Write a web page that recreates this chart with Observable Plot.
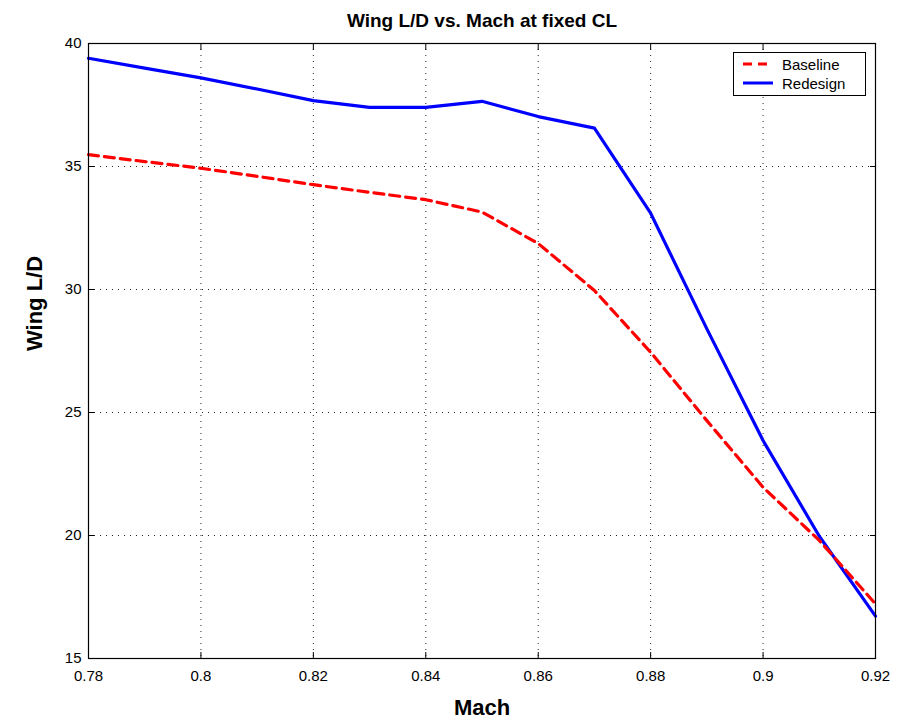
<!DOCTYPE html>
<html>
<head>
<meta charset="utf-8">
<script src="https://cdn.jsdelivr.net/npm/d3@7"></script>
<script src="https://cdn.jsdelivr.net/npm/@observablehq/plot@0.6"></script>
<style>
  html, body { margin: 0; padding: 0; background: #fff; }
  #wrap { position: relative; width: 908px; height: 723px; font-family: "Liberation Sans", Arial, Helvetica, sans-serif; }
  #legend { position: absolute; left: 733px; top: 52px; width: 133px; height: 44px; border: 1px solid #000; background: #fff; box-sizing: border-box; font-size: 15px; }
  #legend .row { position: absolute; left: 8px; height: 18px; display: flex; align-items: center; }
  #legend svg { margin-right: 8px; }
</style>
</head>
<body>
<div id="wrap">
  <div id="chart"></div>
  <div id="legend">
    <div class="row" style="top:2px"><svg width="32" height="8"><line x1="1" y1="4" x2="31" y2="4" stroke="#ff0000" stroke-width="3" stroke-dasharray="9,6"/></svg>Baseline</div>
    <div class="row" style="top:21px"><svg width="32" height="8"><line x1="1" y1="4" x2="31" y2="4" stroke="#0000ff" stroke-width="3"/></svg>Redesign</div>
  </div>
</div>
<script>
const mach = [0.78, 0.79, 0.80, 0.81, 0.82, 0.83, 0.84, 0.85, 0.86, 0.87, 0.88, 0.89, 0.90, 0.91, 0.92];
const baseline = [35.48, 35.2, 34.93, 34.6, 34.26, 33.95, 33.65, 33.15, 31.87, 29.96, 27.45, 24.67, 21.96, 19.8, 17.22];
const redesign = [39.4, 39.0, 38.6, 38.15, 37.68, 37.4, 37.4, 37.65, 37.03, 36.56, 33.1, 28.4, 23.86, 19.97, 16.72];
const xTicks = [0.78, 0.8, 0.82, 0.84, 0.86, 0.88, 0.9, 0.92];
const yTicks = [15, 20, 25, 30, 35, 40];
const xTickLabels = ["0.78", "0.8", "0.82", "0.84", "0.86", "0.88", "0.9", "0.92"];
const titleText = "Wing L/D vs. Mach at fixed CL";
const xLabel = "Mach";
const yLabel = "Wing L/D";

const rows = [];
mach.forEach((m, i) => {
  rows.push({mach: m, ld: baseline[i], series: "Baseline"});
  rows.push({mach: m, ld: redesign[i], series: "Redesign"});
});

const chart = Plot.plot({
  width: 908,
  height: 723,
  marginLeft: 88,
  marginRight: 33,
  marginTop: 43,
  marginBottom: 65,
  style: {fontFamily: "Liberation Sans, Arial, Helvetica, sans-serif", fontSize: "15px", color: "#000", background: "#fff"},
  x: {domain: [0.78, 0.92]},
  y: {domain: [15, 40]},
  marks: [
    Plot.gridX(xTicks, {stroke: "#000", strokeOpacity: 0.85, strokeDasharray: "1,5"}),
    Plot.gridY(yTicks, {stroke: "#000", strokeOpacity: 0.85, strokeDasharray: "1,5"}),
    Plot.line(rows.filter(d => d.series === "Redesign"), {x: "mach", y: "ld", stroke: "#0000ff", strokeWidth: 3.2}),
    Plot.line(rows.filter(d => d.series === "Baseline"), {x: "mach", y: "ld", stroke: "#ff0000", strokeWidth: 3.2, strokeDasharray: "10,6"}),
    Plot.frame({stroke: "#000", strokeWidth: 1.2}),
    Plot.axisX(xTicks, {anchor: "bottom", tickSize: -6, tickPadding: 18, label: null, tickFormat: (d, i) => xTickLabels[i], fontSize: 15}),
    Plot.axisX(xTicks, {anchor: "top", tickSize: -6, label: null, tickFormat: () => ""}),
    Plot.axisY(yTicks, {anchor: "left", tickSize: -6, tickPadding: 13, label: null, fontSize: 15}),
    Plot.axisY(yTicks, {anchor: "right", tickSize: -6, label: null, tickFormat: () => ""}),
    Plot.text([titleText], {frameAnchor: "top", dy: -30, fontWeight: "bold", fontSize: 19}),
    Plot.text([xLabel], {frameAnchor: "bottom", dy: 56, fontWeight: "bold", fontSize: 22}),
    Plot.text([yLabel], {frameAnchor: "left", dx: -54, rotate: -90, fontWeight: "bold", fontSize: 22})
  ]
});
document.getElementById("chart").appendChild(chart);
</script>
</body>
</html>
